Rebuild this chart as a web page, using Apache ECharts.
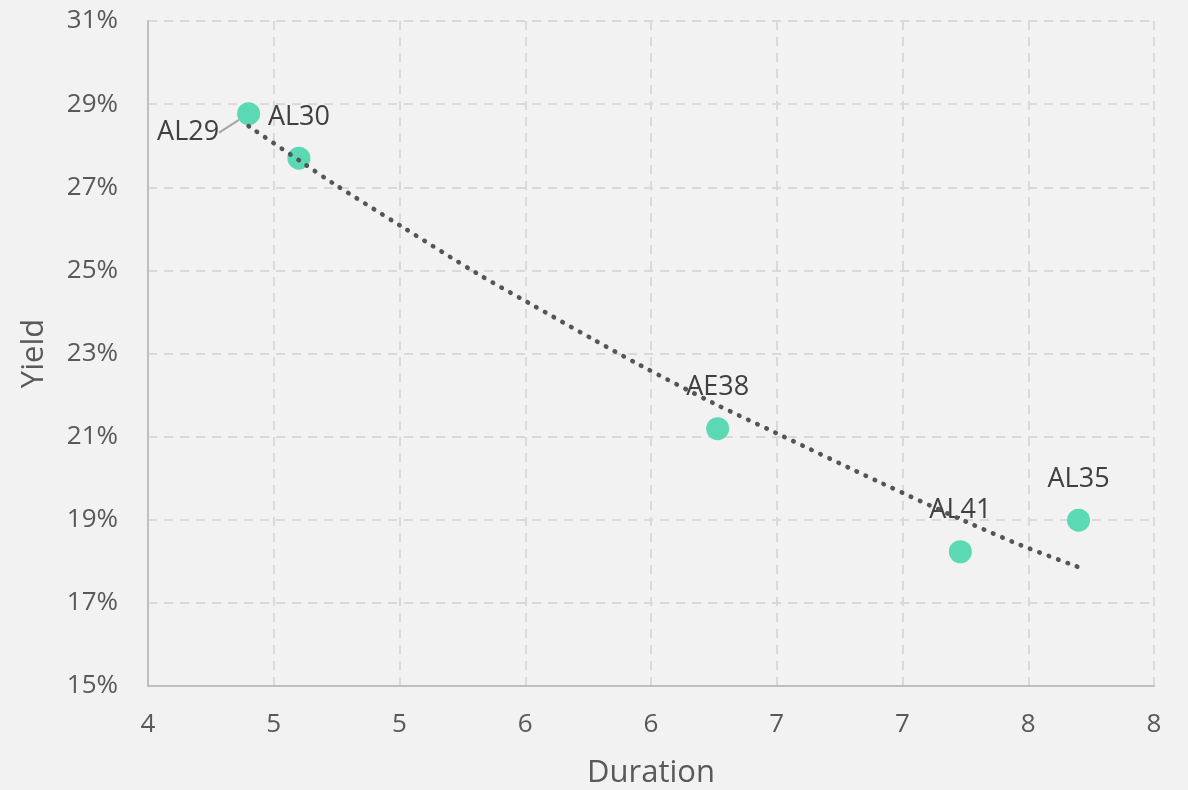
<!DOCTYPE html>
<html>
<head>
<meta charset="utf-8">
<script src="https://cdn.jsdelivr.net/npm/echarts@6/dist/echarts.min.js"></script>
<style>
  html, body { margin: 0; padding: 0; background: #f2f2f2; }
  #chart { width: 1188px; height: 790px; }
</style>
</head>
<body>
<div id="chart"></div>
<script>
// Bonds: modified duration (years) vs. yield (%)
const bondNames = ['AL29', 'AL30', 'AE38', 'AL41', 'AL35'];
const durations = [4.40, 4.60, 6.265, 7.23, 7.70];
const yields    = [28.77, 27.70, 21.19, 18.23, 18.99];

// Fitted trend curve, sampled along its length
const trendX = [4.40, 4.61, 4.74, 5.01, 5.31, 5.51, 5.77, 5.95, 6.25, 6.50, 6.91, 7.25, 7.47, 7.70];
const trendY = [28.47, 27.61, 27.08, 26.05, 24.92, 24.23, 23.34, 22.74, 21.80, 21.08, 19.90, 18.96, 18.39, 17.86];

// Axis settings
const xMin = 4, xMax = 8, xStep = 0.5;
const yMin = 15, yMax = 31, yStep = 2;

const FONT = '"Open Sans", "Noto Sans", sans-serif';
const TEXT = '#595959';

const scatterData = bondNames.map((name, i) => {
  const item = { name: name, value: [durations[i], yields[i]] };
  if (name === 'AL29') {
    item.labelLine = { show: true, lineStyle: { color: '#a6a6a6', width: 2 } };
  }
  return item;
});
const trendData = trendX.map((x, i) => [x, trendY[i]]);

const chart = echarts.init(document.getElementById('chart'), null, { renderer: 'canvas' });

chart.setOption({
  backgroundColor: '#f2f2f2',
  animation: false,
  grid: { left: 148, right: 34, top: 21, bottom: 104, containLabel: false, outerBoundsMode: 'none' },
  xAxis: {
    type: 'value',
    min: xMin, max: xMax, interval: xStep,
    name: 'Duration',
    nameLocation: 'middle',
    nameGap: 72,
    nameTextStyle: { color: TEXT, fontFamily: FONT, fontSize: 31 },
    axisLine: { show: true, lineStyle: { color: '#bfbfbf', width: 2 } },
    axisTick: { show: false },
    axisLabel: {
      color: TEXT, fontFamily: FONT, fontSize: 26, margin: 26,
      formatter: v => String(Math.round(v))
    },
    splitLine: { show: true, lineStyle: { color: '#d9d9d9', width: 2, type: [9, 7] } }
  },
  yAxis: {
    type: 'value',
    min: yMin, max: yMax, interval: yStep,
    name: 'Yield',
    nameLocation: 'middle',
    nameGap: 98,
    nameTextStyle: { color: TEXT, fontFamily: FONT, fontSize: 31 },
    axisLine: { show: true, lineStyle: { color: '#bfbfbf', width: 2 } },
    axisTick: { show: false },
    axisLabel: {
      color: TEXT, fontFamily: FONT, fontSize: 26, margin: 30,
      formatter: v => Math.round(v) + '%'
    },
    splitLine: { show: true, lineStyle: { color: '#d9d9d9', width: 2, type: [9, 7] } }
  },
  series: [
    {
      name: 'Bonds',
      type: 'scatter',
      z: 2,
      symbol: 'circle',
      symbolSize: 23,
      itemStyle: { color: '#5bd9b4', opacity: 1 },
      label: {
        show: true,
        position: 'top',
        distance: 16,
        formatter: p => p.name,
        color: '#404040',
        fontFamily: FONT,
        fontSize: 27
      },
      labelLine: { show: false },
      // AL29's label sits to the lower left, tied to its point by a leader line
      labelLayout: p => {
        if (bondNames[p.dataIndex] !== 'AL29') return {};
        return {
          x: p.rect.x - 18,
          y: p.rect.y + p.rect.height / 2 + 19,
          align: 'right',
          verticalAlign: 'middle'
        };
      },
      emphasis: { disabled: true },
      data: scatterData
    },
    {
      name: 'Trend',
      type: 'line',
      z: 3,
      smooth: 0.3,
      showSymbol: false,
      symbol: 'none',
      lineStyle: { color: '#555555', width: 4.6, type: [0.5, 9.5], cap: 'round' },
      emphasis: { disabled: true },
      data: trendData
    }
  ]
});
</script>
</body>
</html>
